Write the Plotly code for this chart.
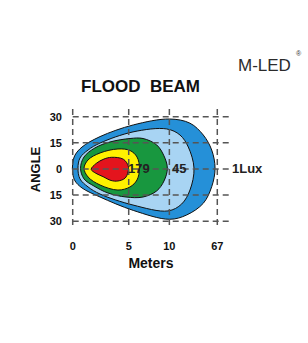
import plotly.graph_objects as go

# Axis ticks (positions in chart units, labels as printed)
X_TICKS = [0, 5, 8.63, 12.91]
X_LABELS = ["0", "5", "10", "67"]
Y_TICKS = [30, 15, 0, -15, -30]
Y_LABELS = ["30", "15", "0", "15", "30"]

# Isolux contours (x: distance in chart units, y: angle in degrees)
LUX1_X = [0.00, 0.21, 0.83, 2.44, 5.41, 8.63, 10.47, 11.66, 12.41, 12.71, 12.41, 11.66, 10.18, 8.63, 5.41, 2.44, 0.83, 0.21, 0.00]
LUX1_Y = [3.3, 8.0, 12.6, 18.6, 25.3, 28.7, 26.3, 19.5, 10.9, 0.4, -10.2, -19.7, -26.4, -28.9, -23.8, -16.1, -10.9, -6.9, -2.5]

LB_X = [0.47, 0.65, 1.37, 2.44, 5.38, 8.39, 9.58, 10.32, 10.83, 10.47, 9.73, 8.51, 5.38, 2.44, 1.37, 0.65]
LB_Y = [0.4, 6.3, 10.9, 14.9, 21.3, 23.0, 19.5, 12.6, 0.4, -12.1, -20.1, -24.1, -20.7, -14.4, -10.3, -5.7]

LUX45_X = [0.70, 1.01, 1.99, 3.33, 5.12, 6.28, 7.50, 8.15, 8.45, 8.15, 7.50, 6.28, 4.76, 3.15, 1.90, 1.01]
LUX45_Y = [0.4, 6.9, 12.1, 15.5, 17.5, 17.5, 13.8, 7.5, 0.4, -6.9, -12.6, -16.1, -16.1, -13.8, -9.8, -5.7]

LUX179_X = [1.01, 1.37, 2.44, 4.04, 5.12, 5.74, 5.96, 5.74, 5.12, 4.04, 2.44, 1.37]
LUX179_Y = [0.4, 5.2, 9.2, 11.5, 10.6, 6.9, 0.4, -6.3, -10.3, -12.1, -9.2, -4.6]

CORE_X = [1.65, 2.10, 2.79, 3.48, 4.52, 4.96, 4.94, 4.67, 4.04, 3.42, 2.71, 2.05]
CORE_Y = [-0.2, 3.2, 5.7, 6.7, 5.6, 1.7, -1.7, -5.3, -6.9, -6.6, -4.4, -2.4]

CONTOURS = [
    (LUX1_X, LUX1_Y, "#2590d8"),
    (LB_X, LB_Y, "#a8d4f3"),
    (LUX45_X, LUX45_Y, "#18973f"),
    (LUX179_X, LUX179_Y, "#fff100"),
    (CORE_X, CORE_Y, "#e4141d"),
]

LUX_LABELS = ["179", "45"]
LUX_LABEL_X = [5.92, 9.49]
EDGE_LABEL = "1Lux"

GRID_X_END = 14.04
GRID_Y_TOP = 34.5
GRID_Y_BOT = -32.2

FONT = "Liberation Sans, Arial, sans-serif"

fig = go.Figure()
for xs, ys, col in CONTOURS:
    fig.add_trace(go.Scatter(
        x=list(xs) + [xs[0]], y=list(ys) + [ys[0]],
        mode="lines", fill="toself", fillcolor=col,
        line=dict(color="#111111", width=1, shape="spline", smoothing=1.0),
        hoverinfo="skip", showlegend=False,
    ))

shapes = []
for yv in Y_TICKS:
    shapes.append(dict(type="line", xref="x", yref="y", x0=0, x1=GRID_X_END, y0=yv, y1=yv,
                       line=dict(color="#555555", width=1.5, dash="6px,4px"), layer="above"))
for xv in X_TICKS:
    shapes.append(dict(type="line", xref="x", yref="y", x0=xv, x1=xv, y0=GRID_Y_BOT, y1=GRID_Y_TOP,
                       line=dict(color="#555555", width=1.5, dash="6px,4px"), layer="above"))

label_font = dict(family=FONT, size=13, color="#222222", weight="bold")
annotations = []
for lab, lx in zip(LUX_LABELS, LUX_LABEL_X):
    annotations.append(dict(x=lx, y=0, xref="x", yref="y", text=lab, showarrow=False,
                            font=label_font, xanchor="center", yanchor="middle"))
annotations.append(dict(x=1.074, y=0, xref="paper", yref="y", text=EDGE_LABEL, showarrow=False,
                        font=label_font, xanchor="center", yanchor="middle"))
annotations.append(dict(x=1.174, y=1.336, xref="paper", yref="paper",
                        text="M-LED", showarrow=False, xanchor="center", yanchor="middle",
                        font=dict(family=FONT, size=17, color="#2b2b2b")))
annotations.append(dict(x=1.378, y=1.428, xref="paper", yref="paper",
                        text="®", showarrow=False, xanchor="center", yanchor="middle",
                        font=dict(family=FONT, size=7, color="#333333")))

fig.update_layout(
    width=308, height=343,
    margin=dict(l=67, r=73, t=107, b=111, autoexpand=False),
    paper_bgcolor="white", plot_bgcolor="white",
    title=dict(text="FLOOD&nbsp;&nbsp;BEAM", x=140.5 / 308, xref="container", xanchor="center",
               y=1 - 86 / 343, yref="container", yanchor="middle",
               font=dict(family=FONT, size=17, color="#111111", weight="bold")),
    xaxis=dict(range=[-0.51, 14.49], tickvals=X_TICKS, ticktext=X_LABELS,
               showgrid=False, zeroline=False, showline=False, ticks="",
               ticklabelstandoff=6,
               tickfont=dict(family=FONT, size=11, color="#111111", weight="bold"),
               title=dict(text="Meters", standoff=7,
                          font=dict(family=FONT, size=14, color="#111111", weight="bold"))),
    yaxis=dict(range=[-36.2, 35.6], tickvals=Y_TICKS, ticktext=Y_LABELS,
               showgrid=False, zeroline=False, showline=False, ticks="",
               ticklabelstandoff=4,
               tickfont=dict(family=FONT, size=11, color="#111111", weight="bold"),
               title=dict(text="ANGLE", standoff=6,
                          font=dict(family=FONT, size=13, color="#111111", weight="bold"))),
    shapes=shapes, annotations=annotations,
)

fig.write_html("out.html")
